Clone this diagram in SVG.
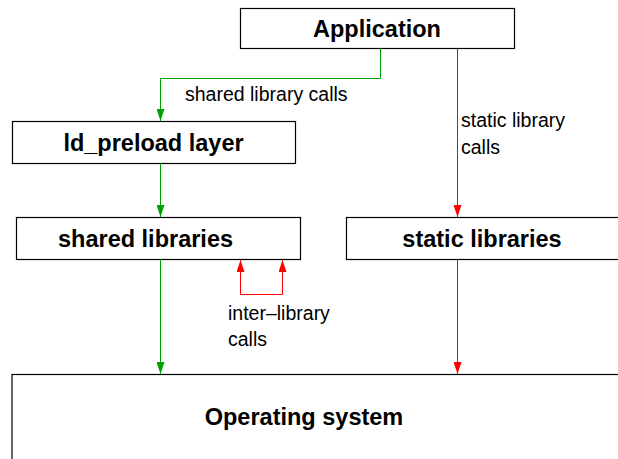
<svg xmlns="http://www.w3.org/2000/svg" width="618" height="459" viewBox="0 0 618 459">
<style>
.box{fill:#fff;stroke:#000;stroke-width:1.2}
.lbl{font-family:"Liberation Sans",Arial,sans-serif;font-weight:bold;font-size:23.5px;fill:#000}
.txt{font-family:"Liberation Sans",Arial,sans-serif;font-size:19.5px;fill:#000}
.g{fill:none;stroke:#00a000;stroke-width:1}
.r{fill:none;stroke:#ff0000;stroke-width:1}
</style>
<defs>
<marker id="ag" viewBox="0 0 12 8" refX="12" refY="4" markerWidth="12" markerHeight="8" markerUnits="userSpaceOnUse" orient="auto"><path d="M0,0 L12,4 L0,8 z" fill="#00a000"/></marker>
<marker id="ar" viewBox="0 0 12 8" refX="12" refY="4" markerWidth="12" markerHeight="8" markerUnits="userSpaceOnUse" orient="auto"><path d="M0,0 L12,4 L0,8 z" fill="#ff0000"/></marker>
</defs>
<g id="os"><rect class="box" x="12" y="374.5" width="620" height="100"/><text class="lbl" x="304" y="425" text-anchor="middle">Operating system</text></g>
<g id="application"><rect class="box" x="240.5" y="8.5" width="274" height="40"/><text class="lbl" x="377" y="37" text-anchor="middle">Application</text></g>
<g id="ldpreload"><rect class="box" x="12.5" y="121.5" width="283" height="42"/><text class="lbl" x="153.5" y="150.5" text-anchor="middle">ld_preload layer</text></g>
<g id="shared"><rect class="box" x="16.5" y="217.5" width="284" height="42"/><text class="lbl" x="58" y="246.5">shared libraries</text></g>
<g id="static"><rect class="box" x="346.5" y="217.5" width="290" height="42"/><text class="lbl" x="482" y="246.5" text-anchor="middle">static libraries</text></g>
<g id="connectors">
<path class="g" d="M380.5,48.5 V78.5 H160.5 V121" marker-end="url(#ag)"/>
<path class="g" d="M160.5,163.5 V217" marker-end="url(#ag)"/>
<path class="g" d="M160.5,259.5 V374" marker-end="url(#ag)"/>
<path class="r" d="M457.5,48.5 V217" marker-end="url(#ar)"/>
<path class="r" d="M457.5,259.5 V374" marker-end="url(#ar)"/>
<path class="r" d="M240.5,294.5 V260" marker-end="url(#ar)"/>
<path class="r" d="M240.5,294.5 H282.5 V260" marker-end="url(#ar)"/>
<text class="txt" x="185" y="101">shared library calls</text>
<text class="txt" x="461" y="127">static library</text>
<text class="txt" x="461" y="154">calls</text>
<text class="txt" x="228" y="320">inter–library</text>
<text class="txt" x="228" y="346">calls</text>
</g>
</svg>
